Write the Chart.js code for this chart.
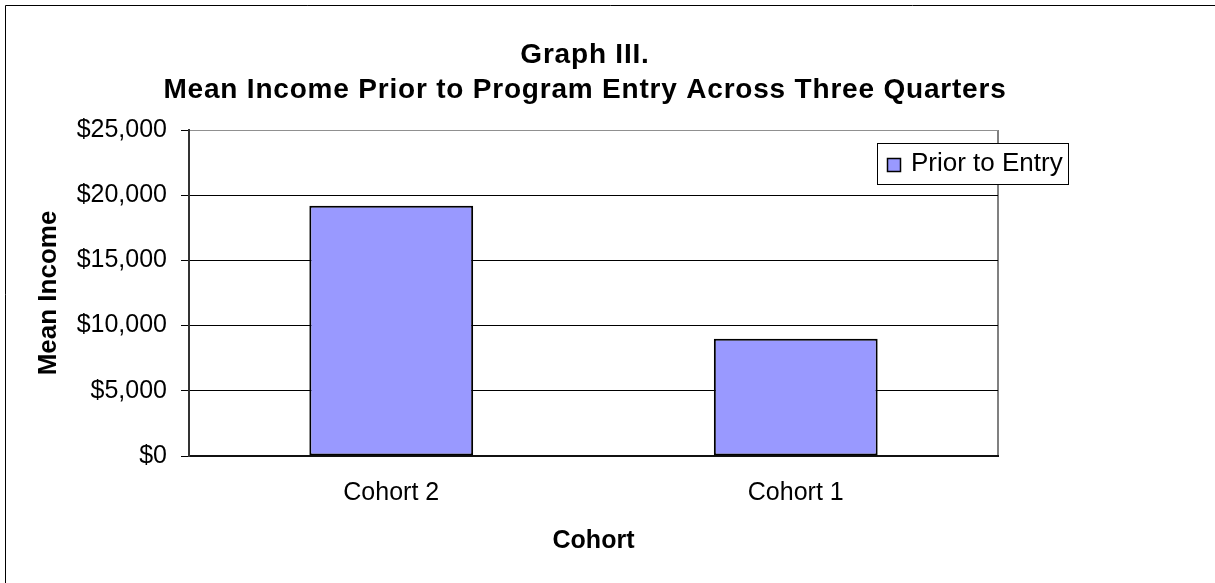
<!DOCTYPE html>
<html lang="en">
<head>
  <meta charset="UTF-8" />
  <title>Graph III. Mean Income Prior to Program Entry</title>
  <style>
    body, html { margin: 0; padding: 0; background: #fff; }
    canvas#chart { display: block; }
  </style>
  <script src="https://cdn.jsdelivr.net/npm/chart.js"></script>
</head>
<body>
<canvas id="chart" width="1215" height="583"></canvas>

<script>
  // chart data
  const cohorts = ['Cohort 2', 'Cohort 1'];
  const priorToEntry = [19200, 9000];
  const seriesName = 'Prior to Entry';
  const titleLines = ['Graph III.', 'Mean Income Prior to Program Entry Across Three Quarters'];
  const yMin = 0, yMax = 25000, yStep = 5000;

  const FONT = "'Liberation Sans', Arial, sans-serif";
  Chart.defaults.font.family = FONT;
  Chart.defaults.color = '#000';

  // title, legend box and outer frame
  const extras = {
    id: 'extras',
    afterDraw(chart) {
      const c = chart.ctx;
      const area = chart.chartArea;
      c.save();

      // frame (top + left edges only visible)
      c.strokeStyle = '#000';
      c.lineWidth = 1;
      c.beginPath();
      c.moveTo(5.5, 583);
      c.lineTo(5.5, 5.5);
      c.lineTo(1215, 5.5);
      c.stroke();

      // title
      c.fillStyle = '#000';
      c.font = 'bold 28px ' + FONT;
      c.letterSpacing = '0.8px';
      c.textAlign = 'center';
      c.textBaseline = 'alphabetic';
      c.fillText(titleLines[0], 585, 63);
      c.fillText(titleLines[1], 585, 98);
      c.letterSpacing = '0px';

      // legend
      const lx = area.right - 121, ly = area.top + 13, lw = 191, lh = 41;
      c.fillStyle = '#fff';
      c.fillRect(lx, ly, lw, lh);
      c.strokeStyle = '#000';
      c.lineWidth = 1;
      c.strokeRect(lx + 0.5, ly + 0.5, lw, lh);
      c.fillStyle = '#9999FF';
      c.fillRect(lx + 10, ly + 15, 14, 14);
      c.lineWidth = 1.5;
      c.strokeRect(lx + 10.5, ly + 15.5, 13, 13);
      c.fillStyle = '#000';
      c.font = '26px ' + FONT;
      c.textAlign = 'left';
      c.textBaseline = 'middle';
      c.fillText(seriesName, lx + 34, ly + 21);

      c.restore();
    }
  };

  new Chart(document.getElementById('chart'), {
    type: 'bar',
    data: {
      labels: cohorts,
      datasets: [{
        label: seriesName,
        data: priorToEntry,
        backgroundColor: '#9999FF',
        borderColor: '#000',
        borderWidth: 2,
        borderSkipped: false,
        barPercentage: 0.405,
        categoryPercentage: 1
      }]
    },
    options: {
      responsive: false,
      animation: false,
      layout: { padding: { top: 130, right: 217, left: 20, bottom: 10 } },
      plugins: {
        legend: { display: false },
        title: { display: false },
        tooltip: { enabled: false }
      },
      scales: {
        x: {
          afterFit(s) { s.height = 117; },
          grid: {
            offset: true,
            drawTicks: false,
            color: c => c.type === 'tick' ? 'rgba(0,0,0,0)' : '#808080',
            lineWidth: 2
          },
          border: { display: true, color: '#111', width: 2 },
          ticks: { padding: 22, font: { size: 25 } },
          title: {
            display: true,
            text: 'Cohort',
            font: { size: 25, weight: 'bold' },
            padding: { top: 0, bottom: 17 }
          }
        },
        y: {
          min: yMin,
          max: yMax,
          afterFit(s) { s.width = 169; },
          grid: {
            color: c => c.tick && c.tick.value === yMax ? '#909090' : '#000',
            tickColor: '#000',
            tickLength: 8,
            lineWidth: 1
          },
          border: { display: true, color: '#333', width: 2 },
          ticks: {
            stepSize: yStep,
            padding: 14,
            font: { size: 25 },
            callback: v => '$' + v.toLocaleString('en-US')
          },
          title: {
            display: true,
            text: 'Mean Income',
            font: { size: 26, weight: 'bold' },
            padding: { top: 13, bottom: 0 }
          }
        }
      }
    },
    plugins: [extras]
  });
</script>
</body>
</html>
